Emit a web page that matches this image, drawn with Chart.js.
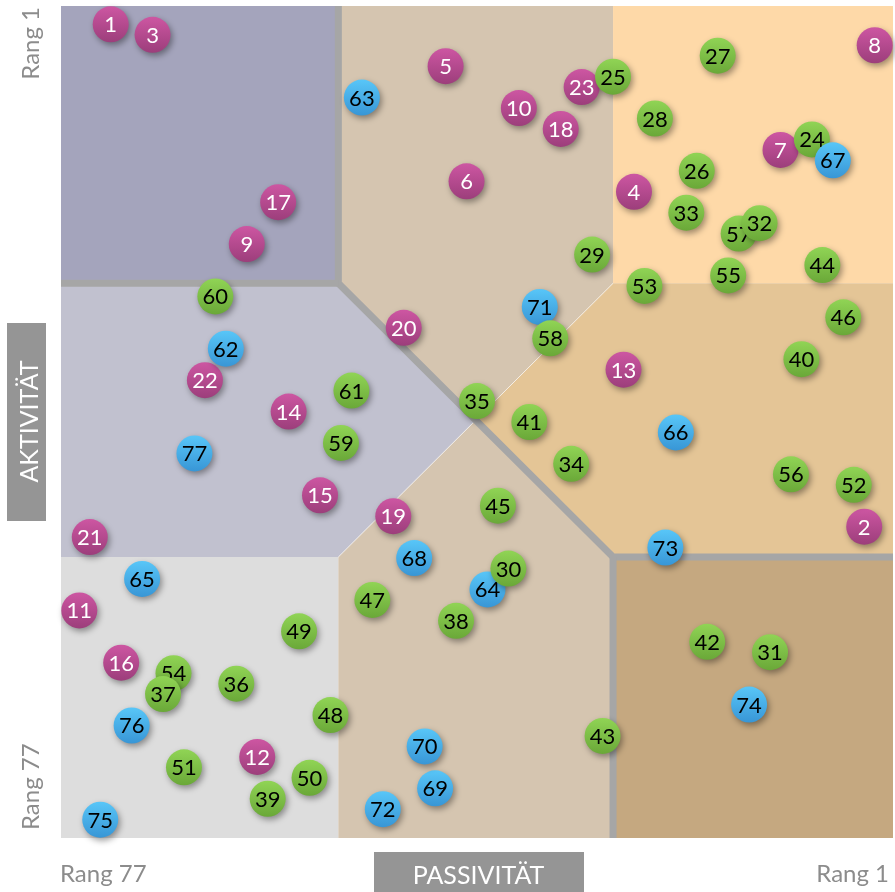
<!DOCTYPE html>
<html>
<head>
<meta charset="utf-8">
<script src="https://cdn.jsdelivr.net/npm/chart.js@4/dist/chart.umd.min.js"></script>
<style>
  html, body { margin: 0; padding: 0; background: #ffffff; }
  canvas { display: block; }
</style>
</head>
<body>
<canvas id="chart" width="895" height="892"></canvas>
<script>
// ---------- data (ranks) ----------
const ids = [1,2,3,4,5,6,7,8,9,10,11,12,13,14,15,16,17,18,19,20,21,22,23,24,25,26,27,28,29,30,
  31,32,33,34,35,36,37,38,39,40,41,42,43,44,45,46,47,48,49,50,51,52,53,54,55,56,57,58,59,60,
  61,62,63,64,65,66,67,68,69,70,71,72,73,74,75,76,77];

// Passivität rank (x axis, Rang 77 left … Rang 1 right)
const passivRank = [74,2,70,24,42,40,10,1,61,35, 77,60,25,57,54,73,58,31,47,46,
  76,65,29,7,26,18,16,22,28,36, 11,12,19,30,39,62,69,41,59,8,
  34,17,27,6,37,4,49,53,56,55, 67,3,23,68,15,9,14,32,52,64,
  51,63,50,38,71,20,5,45,43,44, 33,48,21,13,75,72,66];

// Aktivität rank (y axis, Rang 1 top … Rang 77 bottom)
const aktivRank = [1,49,2,17,5,16,13,3,22,9, 57,71,34,38,46,62,18,11,48,30,
  50,35,7,12,6,15,4,10,23,53, 61,20,19,43,37,64,65,58,75,33,
  39,60,69,24,47,29,56,67,59,73, 72,45,26,63,25,44,21,31,41,27,
  36,32,8,55,54,40,14,52,74,70, 28,76,51,66,77,68,42];

// group of every item: 0 = magenta, 1 = green, 2 = blue
const groupIndex = [
  0,0,0,0,0,0,0,0,0,0,
  0,0,0,0,0,0,0,0,0,0,
  0,0,0,1,1,1,1,1,1,1,
  1,1,1,1,1,1,1,1,1,1,
  1,1,1,1,1,1,1,1,1,1,
  1,1,1,1,1,1,1,1,1,1,
  1,2,2,2,2,2,2,2,2,2,
  2,2,2,2,2,2,2];

const xTickLabels = ['Rang 77', 'Rang 1'];
const yTickLabels = ['Rang 1', 'Rang 77'];
const xTitle = 'PASSIVITÄT';
const yTitle = 'AKTIVITÄT';

// zone limits (in rank units)
const zoneX = [52.25, 26.0];
const zoneY = [25.75, 51.9];

// ---------- styling ----------
const R = 18;
const groupColors = [
  { top: '#CD56A2', bottom: '#9C3E7B', text: '#FFFFFF' },
  { top: '#90D455', bottom: '#6AA838', text: '#000000' },
  { top: '#58C6F8', bottom: '#3896D6', text: '#000000' }
];
const FONT = 'Lato, "Open Sans", "DejaVu Sans", sans-serif';

// drawing order (some bubbles lie under their neighbours)
const drawFirst = [54, 57, 64, 71];
const order = [];
ids.forEach((id, i) => { if (groupIndex[i] === 0) order.push(i); });
drawFirst.forEach(id => order.push(ids.indexOf(id)));
ids.forEach((id, i) => { if (groupIndex[i] !== 0 && !drawFirst.includes(id)) order.push(i); });

const pts = order.map(i => ({ id: ids[i], x: passivRank[i], y: aktivRank[i], g: groupIndex[i] }));

// ---------- plugins ----------
const zonesPlugin = {
  id: 'zones',
  beforeDatasetsDraw(chart) {
    const { ctx, chartArea: a, scales } = chart;
    const x1 = scales.x.getPixelForValue(zoneX[0]);
    const x2 = scales.x.getPixelForValue(zoneX[1]);
    const y1 = scales.y.getPixelForValue(zoneY[0]);
    const y2 = scales.y.getPixelForValue(zoneY[1]);
    const cx = (x1 + x2) / 2, cy = (y1 + y2) / 2;
    const poly = (p, col) => {
      ctx.beginPath();
      p.forEach(([px, py], i) => i ? ctx.lineTo(px, py) : ctx.moveTo(px, py));
      ctx.closePath();
      ctx.fillStyle = col;
      ctx.fill();
    };
    ctx.save();
    ctx.beginPath(); ctx.rect(a.left, a.top, a.right - a.left, a.bottom - a.top); ctx.clip();
    poly([[a.left, a.top], [x1, a.top], [x1, y1], [a.left, y1]], '#A4A4BC');
    poly([[x1, a.top], [x2, a.top], [x2, y1], [cx, cy], [x1, y1]], '#D5C5B0');
    poly([[x2, a.top], [a.right, a.top], [a.right, y1], [x2, y1]], '#FED9A8');
    poly([[a.left, y1], [x1, y1], [cx, cy], [x1, y2], [a.left, y2]], '#C1C1CF');
    poly([[x2, y1], [a.right, y1], [a.right, y2], [x2, y2], [cx, cy]], '#E4C596');
    poly([[a.left, y2], [x1, y2], [x1, a.bottom], [a.left, a.bottom]], '#DDDDDD');
    poly([[x1, y2], [cx, cy], [x2, y2], [x2, a.bottom], [x1, a.bottom]], '#D5C5B0');
    poly([[x2, y2], [a.right, y2], [a.right, a.bottom], [x2, a.bottom]], '#C5A880');
    ctx.beginPath(); ctx.moveTo(x2, y1); ctx.lineTo(x1, y2);
    ctx.strokeStyle = 'rgba(255,255,255,0.6)'; ctx.lineWidth = 1; ctx.stroke();
    ctx.strokeStyle = '#A6A6A6'; ctx.lineWidth = 7; ctx.lineJoin = 'miter'; ctx.lineCap = 'butt';
    ctx.beginPath();
    ctx.moveTo(x1, a.top - 5); ctx.lineTo(x1, y1); ctx.lineTo(x2, y2); ctx.lineTo(a.right + 5, y2);
    ctx.stroke();
    ctx.beginPath(); ctx.moveTo(a.left - 5, y1); ctx.lineTo(x1, y1); ctx.stroke();
    ctx.beginPath(); ctx.moveTo(x2, y2); ctx.lineTo(x2, a.bottom + 5); ctx.stroke();
    ctx.restore();
  }
};

const shadowPlugin = {
  id: 'shadow',
  beforeDatasetDraw(chart) {
    const ctx = chart.ctx;
    ctx.save();
    ctx.shadowColor = 'rgba(0,0,0,0.38)';
    ctx.shadowBlur = 6;
    ctx.shadowOffsetX = 2;
    ctx.shadowOffsetY = 3;
  },
  afterDatasetDraw(chart) { chart.ctx.restore(); }
};

const labelsPlugin = {
  id: 'labels',
  afterDatasetsDraw(chart) {
    const ctx = chart.ctx;
    const els = chart.getDatasetMeta(0).data;
    ctx.save();
    ctx.font = '22px ' + FONT;
    ctx.textAlign = 'center';
    ctx.textBaseline = 'alphabetic';
    els.forEach((el, k) => {
      const p = pts[k];
      const over = [];
      for (let j = k + 1; j < els.length; j++) {
        const dx = els[j].x - el.x, dy = els[j].y - el.y;
        if (dx * dx + dy * dy < 4 * R * R) over.push(els[j]);
      }
      ctx.save();
      if (over.length) {
        ctx.beginPath();
        ctx.rect(0, 0, chart.width, chart.height);
        over.forEach(o => { ctx.moveTo(o.x + R, o.y); ctx.arc(o.x, o.y, R, 0, Math.PI * 2); });
        ctx.clip('evenodd');
      }
      ctx.fillStyle = groupColors[p.g].text;
      ctx.fillText(String(p.id), el.x, el.y + 8);
      ctx.restore();
    });
    ctx.restore();
  }
};

const axisTextPlugin = {
  id: 'axisText',
  afterDraw(chart) {
    const { ctx, chartArea: a } = chart;
    ctx.save();
    ctx.fillStyle = '#8C8C8C';
    ctx.font = '24px ' + FONT;
    ctx.textBaseline = 'alphabetic';
    ctx.textAlign = 'left';
    ctx.fillText(xTickLabels[0], a.left - 1, 882);
    ctx.textAlign = 'right';
    ctx.fillText(xTickLabels[1], a.right - 4, 882);
    ctx.save(); ctx.translate(39, a.top + 1); ctx.rotate(-Math.PI / 2);
    ctx.textAlign = 'right'; ctx.fillText(yTickLabels[0], 0, 0); ctx.restore();
    ctx.save(); ctx.translate(39, a.bottom - 8); ctx.rotate(-Math.PI / 2);
    ctx.textAlign = 'left'; ctx.fillText(yTickLabels[1], 0, 0); ctx.restore();
    ctx.fillStyle = '#959595';
    ctx.fillRect(7, 323, 39, 198);
    ctx.fillRect(374, 852, 210, 40);
    ctx.fillStyle = '#FFFFFF';
    ctx.font = '25px ' + FONT;
    ctx.textAlign = 'center';
    ctx.fillText(xTitle, 478.5, 884);
    ctx.save(); ctx.translate(38, 421.5); ctx.rotate(-Math.PI / 2);
    ctx.fillText(yTitle, 0, 0); ctx.restore();
    ctx.restore();
  }
};

// ---------- chart ----------
const bubbleFill = (c) => {
  if (c.type !== 'data' || c.dataIndex === undefined) return '#999999';
  const p = pts[c.dataIndex];
  const col = groupColors[p.g];
  const chart = c.chart;
  const xs = chart.scales && chart.scales.x, ys = chart.scales && chart.scales.y;
  if (!xs || !ys) return col.top;
  const px = xs.getPixelForValue(p.x), py = ys.getPixelForValue(p.y);
  if (!isFinite(px) || !isFinite(py)) return col.top;
  const grad = chart.ctx.createLinearGradient(px, py - R, px, py + R);
  grad.addColorStop(0, col.top);
  grad.addColorStop(1, col.bottom);
  return grad;
};

const chart = new Chart(document.getElementById('chart'), {
  type: 'scatter',
  data: {
    datasets: [{
      data: pts.map(p => ({ x: p.x, y: p.y })),
      pointRadius: R,
      pointHoverRadius: R,
      pointBorderWidth: 0,
      borderWidth: 0,
      pointBorderColor: 'rgba(0,0,0,0)',
      backgroundColor: bubbleFill,
      pointBackgroundColor: bubbleFill,
      clip: false
    }]
  },
  options: {
    responsive: false,
    animation: false,
    events: [],
    devicePixelRatio: 1,
    layout: { autoPadding: false, padding: { left: 61, top: 6, right: 2, bottom: 54 } },
    scales: {
      x: { type: 'linear', min: -0.75, max: 78.75, reverse: true, display: false },
      y: { type: 'linear', min: -0.75, max: 78.75, reverse: true, display: false }
    },
    plugins: { legend: { display: false }, tooltip: { enabled: false } }
  },
  plugins: [zonesPlugin, shadowPlugin, labelsPlugin, axisTextPlugin]
});
chart.update();
</script>
</body>
</html>
